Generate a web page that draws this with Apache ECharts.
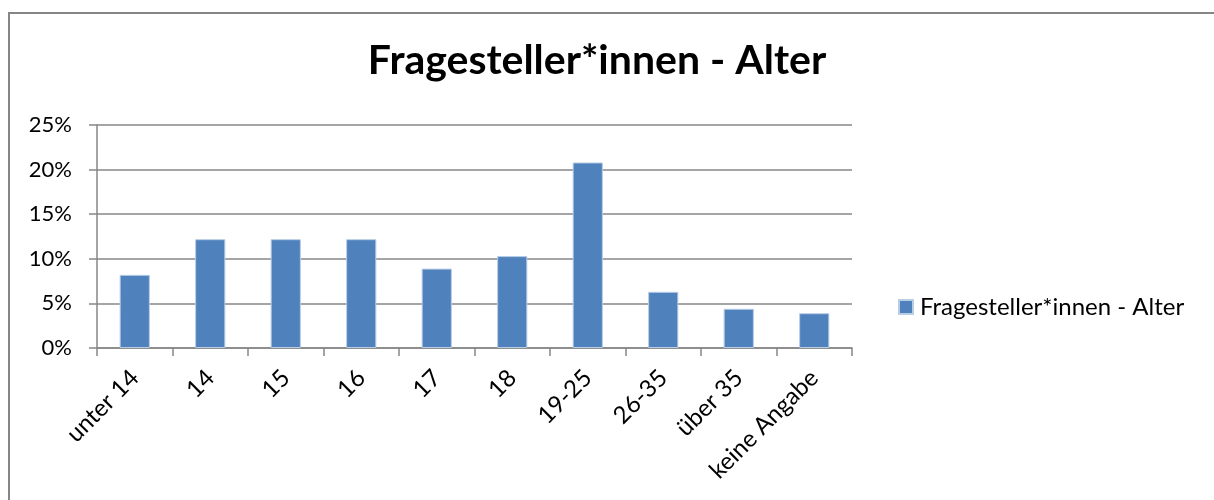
<!DOCTYPE html>
<html>
<head>
<meta charset="utf-8">
<script src="https://cdn.jsdelivr.net/npm/echarts@6/dist/echarts.min.js"></script>
<style>
html,body{margin:0;padding:0;background:#fff;}
#chart{width:1214px;height:500px;}
</style>
</head>
<body>
<div id="chart"></div>
<script>
const titleText = "Fragesteller*innen - Alter";
const seriesName = "Fragesteller*innen - Alter";
const categories = ["unter 14", "14", "15", "16", "17", "18", "19-25", "26-35", "über 35", "keine Angabe"];
const values = [8.2, 12.2, 12.2, 12.2, 8.9, 10.3, 20.8, 6.3, 4.4, 3.9];
const yTicks = [0, 5, 10, 15, 20, 25];

const chart = echarts.init(document.getElementById('chart'), null, {renderer: 'canvas'});
const font = 'Lato, "Noto Sans", sans-serif';
chart.setOption({
  animation: false,
  backgroundColor: '#fff',
  textStyle: {fontFamily: font},
  graphic: [{
    type: 'rect',
    shape: {x: 9, y: 13, width: 1230, height: 520},
    style: {fill: 'none', stroke: '#868686', lineWidth: 2},
    silent: true
  }],
  title: {
    text: titleText,
    left: 592,
    top: 35,
    textAlign: 'center',
    textStyle: {fontFamily: font, fontWeight: 'bold', fontSize: 41, color: '#000'}
  },
  legend: {
    data: [seriesName],
    left: 893,
    top: 290,
    icon: 'rect',
    itemWidth: 14,
    itemHeight: 14,
    itemGap: 10,
    textStyle: {fontFamily: font, fontSize: 24, color: '#000', padding: [0, 0, 0, 2]}
  },
  grid: {left: 97, right: 362, top: 125, bottom: 152, containLabel: false},
  xAxis: {
    type: 'category',
    data: categories,
    axisLine: {show: true, lineStyle: {color: '#878787', width: 1.5}},
    axisTick: {show: true, length: 8, lineStyle: {color: '#878787', width: 1.5}, alignWithLabel: false},
    axisLabel: {rotate: 45, fontSize: 24, color: '#000', margin: 26, fontFamily: font, interval: 0}
  },
  yAxis: {
    type: 'value',
    min: 0,
    max: 25,
    interval: 5,
    axisLine: {show: true, lineStyle: {color: '#878787', width: 1.5}},
    axisTick: {show: true, length: 8, lineStyle: {color: '#878787', width: 1.5}},
    splitLine: {show: true, lineStyle: {color: '#878787', width: 1.5}},
    axisLabel: {
      fontSize: 22, color: '#000', margin: 25, fontFamily: font,
      formatter: function (v) { return yTicks.indexOf(v) >= 0 ? v + '%' : ''; }
    }
  },
  series: [{
    name: seriesName,
    type: 'bar',
    data: values,
    barWidth: '40%',
    itemStyle: {color: '#4F81BD', borderColor: '#B9CDE5', borderWidth: 1}
  }]
});
</script>
</body>
</html>
